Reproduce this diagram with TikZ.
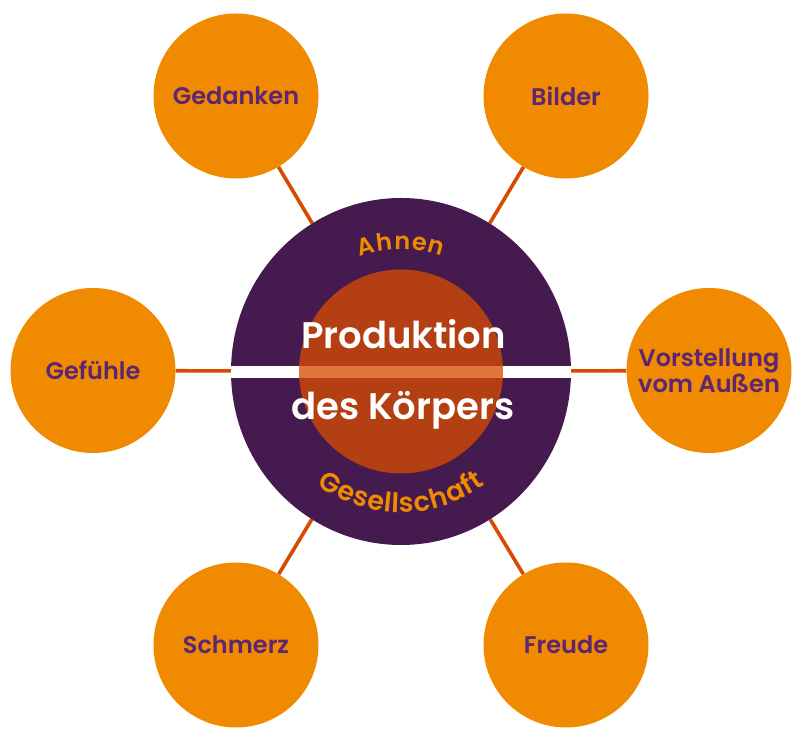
\documentclass[tikz,border=0pt]{standalone}
\usepackage{fontspec}
\setmainfont{Poppins}
\IfFontExistsTF{Poppins SemiBold}{\newfontfamily\semifont{Poppins SemiBold}}{\def\semifont{\bfseries}}
\usetikzlibrary{shapes.geometric,decorations.text,backgrounds}
\definecolor{hubpurple}{RGB}{69,26,78}
\definecolor{bubbleorange}{RGB}{240,138,0}
\definecolor{labelpurple}{RGB}{92,38,114}
\definecolor{linkred}{RGB}{214,75,0}
\newcommand\ahnenfont{\semifont\fontsize{24}{24}\selectfont}
\newcommand\gesfont{\semifont\fontsize{27}{27}\selectfont}
\begin{document}
\begin{tikzpicture}[x=1pt,y=1pt,
  bubble/.style={circle, fill=bubbleorange, minimum size=165pt, inner sep=0pt,
    text=labelpurple, font=\semifont\fontsize{24}{26}\selectfont, align=center},
  hub/.style={ellipse, fill=hubpurple, minimum width=340pt, minimum height=347pt, inner sep=0pt},
  link/.style={draw=linkred, line width=3.6pt},
  coretext/.style={text=white, font=\semifont\fontsize{37}{40}\selectfont, anchor=base, inner sep=0pt}]
\useasboundingbox (0,0) rectangle (803,743);

% outer bubbles
\node[bubble] (ged) at (236,647) {Gedanken};
\node[bubble] (bil) at (566,647) {Bilder};
\node[bubble] (gef) at (93,372.5) {Gefühle};
\node[bubble] (vor) at (709,372.5) {Vorstellung\\vom Außen};
\node[bubble] (sch) at (236,98) {Schmerz};
\node[bubble] (fre) at (566,98) {Freude};

% hub
\node[hub] (hub) at (401,371.5) {};

% connectors behind
\begin{scope}[on background layer]
  \draw[link] (ged) -- (hub);
  \draw[link] (bil) -- (hub);
  \draw[link] (gef) -- (hub);
  \draw[link] (vor) -- (hub);
  \draw[link] (sch) -- (hub);
  \draw[link] (fre) -- (hub);
\end{scope}

% white band
\begin{scope}
  \clip (hub.center) ellipse [x radius=170, y radius=173.5];
  \fill[white] (225,365) rectangle (577,377);
\end{scope}

% inner core
\fill[linkred, opacity=0.76] (hub.center) circle [radius=102];

% centre text
\node[coretext] (t1) at (403.5,394) {Produktion};
\node[coretext] (t2) at (403,323) {des Körpers};

% curved labels
\begin{scope}[font=\ahnenfont]
\path[decorate, decoration={text effects along path, text={Ahnen}, text align=center,
    text effects/.cd, text along path,
    characters={text=bubbleorange, font=\ahnenfont},
    character widths={font=\ahnenfont, inner xsep=0.5pt}}]
  (hub.center) ++(160:122) arc [start angle=160, end angle=20, radius=122];
\end{scope}
\begin{scope}[font=\gesfont]
\path[decorate, decoration={text effects along path, text={Gesellschaft}, text align=center,
    text effects/.cd, text along path,
    characters={text=bubbleorange, font=\gesfont},
    character widths={font=\gesfont, inner xsep=0.4pt}}]
  (hub.center) ++(195:141) arc [start angle=195, end angle=345, radius=141];
\end{scope}
\end{tikzpicture}
\end{document}
